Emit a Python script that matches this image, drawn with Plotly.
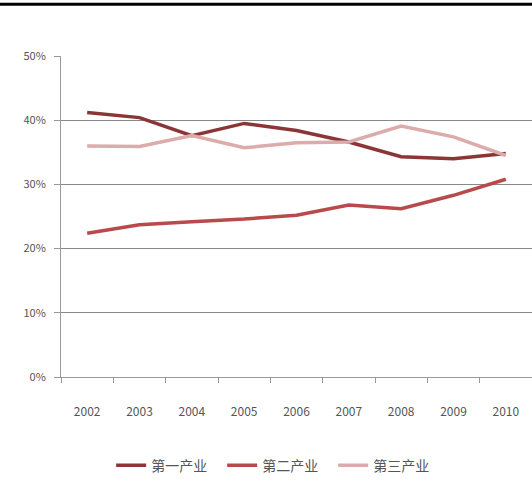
import plotly.graph_objects as go

years = ["2002", "2003", "2004", "2005", "2006", "2007", "2008", "2009", "2010"]
primary = [41.2, 40.4, 37.6, 39.5, 38.4, 36.6, 34.3, 34.0, 34.8]
secondary = [22.4, 23.7, 24.2, 24.6, 25.2, 26.8, 26.2, 28.3, 30.8]
tertiary = [36.0, 35.9, 37.6, 35.7, 36.5, 36.6, 39.1, 37.4, 34.5]
names = ["第一产业", "第二产业", "第三产业"]
colors = ["#8b3536", "#b84a4b", "#dcabab"]

font = "Noto Sans CJK SC"
fig = go.Figure()
for name, vals, c in zip(names, [primary, secondary, tertiary], colors):
    fig.add_trace(go.Scatter(x=years, y=vals, name=name, mode="lines",
                             line=dict(color=c, width=3.5)))

fig.update_layout(
    width=532, height=482,
    margin=dict(l=61, r=0, t=56, b=103),
    paper_bgcolor="white", plot_bgcolor="white",
    font=dict(family=font, size=10, color="#555"),
    showlegend=True,
    legend=dict(orientation="h", x=0.46, xanchor="center", y=-0.276, yanchor="middle",
                font=dict(size=14, color="#555"), itemwidth=30, tracegroupgap=0,
                entrywidth=66, entrywidthmode="pixels"),
    xaxis=dict(type="category", range=[-0.5, 8.5], showgrid=False, showline=True,
               linecolor="#999", linewidth=1,
               ticks="outside", tickson="boundaries", ticklen=5, tickcolor="#999",
               tickfont=dict(size=12, color="#555"), ticklabelstandoff=24),
    yaxis=dict(range=[0, 50], dtick=10, ticksuffix="%", showgrid=True, gridcolor="#888",
               gridwidth=1, showline=True, linecolor="#999", linewidth=1,
               ticks="outside", ticklen=6, tickcolor="#999", zeroline=False,
               ticklabelstandoff=6, tickfont=dict(size=11, color="#555")),
    shapes=[dict(type="line", xref="paper", yref="paper", x0=-0.13, x1=1, y0=1.161, y1=1.161,
                 line=dict(color="black", width=3))],
)
fig.write_html("out.html")
